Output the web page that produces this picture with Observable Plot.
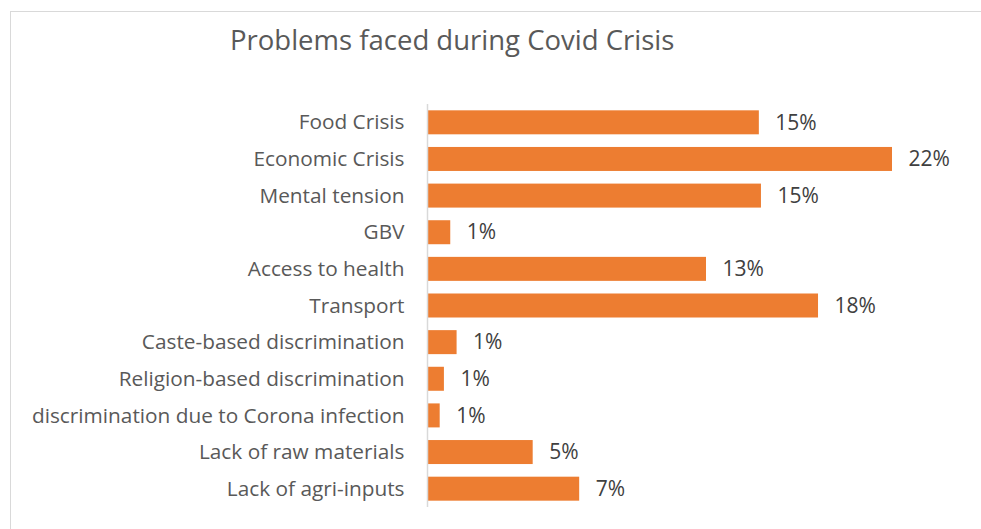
<!DOCTYPE html>
<html>
<head>
<meta charset="utf-8">
<script src="https://cdn.jsdelivr.net/npm/d3@7"></script>
<script src="https://cdn.jsdelivr.net/npm/@observablehq/plot@0.6"></script>
<style>
  html, body { margin: 0; padding: 0; background: #fff; }
  #wrap { position: relative; width: 981px; height: 529px; overflow: hidden; font-family: "Open Sans", sans-serif; }
  #frame { position: absolute; left: 10px; top: 11px; width: 1000px; height: 600px; border: 1.5px solid #d9d9d9; box-sizing: border-box; }
  #title { position: absolute; left: 230px; top: 21px; font-size: 27.5px; line-height: normal; color: #595959; white-space: nowrap; }
  #chart { position: absolute; left: 0; top: 0; }
</style>
</head>
<body>
<div id="wrap">
  <div id="frame"></div>
  <div id="title">Problems faced during Covid Crisis</div>
  <div id="chart"></div>
</div>
<script>
const categories = [
  "Food Crisis",
  "Economic Crisis",
  "Mental tension",
  "GBV",
  "Access to health",
  "Transport",
  "Caste-based discrimination",
  "Religion-based discrimination",
  "discrimination due to Corona infection",
  "Lack of raw materials",
  "Lack of agri-inputs"
];
const values = [15.7, 22.0, 15.8, 1.1, 13.2, 18.5, 1.4, 0.8, 0.6, 5.0, 7.2];
const valueLabels = ["15%", "22%", "15%", "1%", "13%", "18%", "1%", "1%", "1%", "5%", "7%"];

const data = categories.map((c, i) => ({ category: c, value: values[i], label: valueLabels[i] }));

const chart = Plot.plot({
  width: 981,
  height: 529,
  marginLeft: 427,
  marginRight: 89,
  marginTop: 104,
  marginBottom: 22,
  style: { fontFamily: "Open Sans, sans-serif", background: "transparent", overflow: "visible" },
  x: { domain: [0, 22], axis: null },
  y: { domain: categories, paddingInner: 0.345, paddingOuter: 0.1725, round: false, label: null },
  marks: [
    Plot.barX(data, { y: "category", x: "value", fill: "#ED7D31" }),
    Plot.ruleX([0], { stroke: "#d9d9d9", strokeWidth: 1.5 }),
    Plot.axisY({ tickSize: 0, tickPadding: 23, fontSize: 20.8, fill: "#595959", label: null }),
    Plot.text(data, { y: "category", x: "value", text: "label", dx: 16, textAnchor: "start", fontSize: 21, fill: "#404040" })
  ]
});
document.getElementById("chart").appendChild(chart);
</script>
</body>
</html>
